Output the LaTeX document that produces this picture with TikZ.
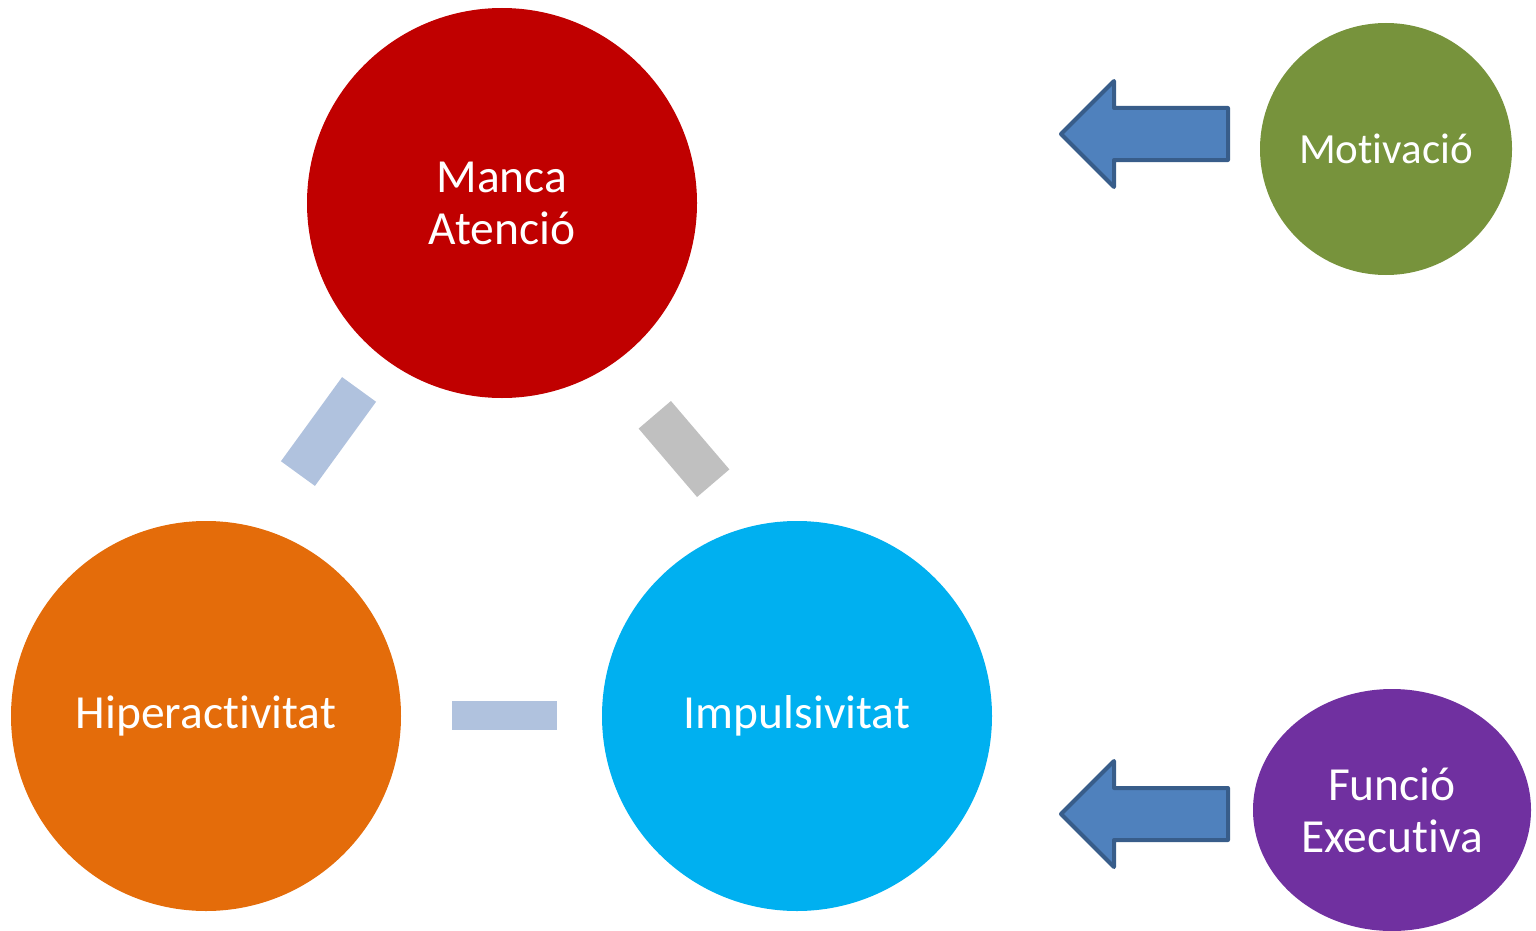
\documentclass[tikz,border=0pt]{standalone}
\usepackage{fontspec}
\setmainfont[Ligatures=NoCommon]{Carlito}
\definecolor{cred}{HTML}{C00000}
\definecolor{corange}{HTML}{E46C0A}
\definecolor{cblue}{HTML}{00B0F0}
\definecolor{cgreen}{HTML}{77933C}
\definecolor{cpurple}{HTML}{7030A0}
\definecolor{clink}{HTML}{B0C2DE}
\definecolor{cgray}{HTML}{C0C0C0}
\definecolor{arrfill}{HTML}{4F81BD}
\definecolor{arrline}{HTML}{385D8A}
\tikzset{
  bigcirc/.style={circle, minimum size=390pt, inner sep=0pt, text=white, align=center,
    font=\fontsize{47.5}{52}\selectfont},
  smallcirc/.style={ellipse, inner sep=0pt, text=white, align=center,
    font=\fontsize{47.5}{52}\selectfont},
  linkbar/.style={rectangle, inner sep=0pt, draw=none},
  blockarrow/.style={fill=arrfill, draw=arrline, line width=4pt, line join=round},
}
\usetikzlibrary{shapes.geometric}
\begin{document}
\begin{tikzpicture}[x=1pt,y=-1pt]
\useasboundingbox (0,0) rectangle (1536,931);
\node[bigcirc, fill=cred] (atencio) at (502,203) {Manca\\Atenció};
\node[bigcirc, fill=corange] (hiper) at (206,716) {Hiperactivitat};
\node[bigcirc, fill=cblue] (impuls) at (797,716) {Impulsivitat};
\node[smallcirc, fill=cgreen, minimum width=252pt, minimum height=252pt, font=\fontsize{43}{52}\selectfont] (motiv) at (1386,149) {Motivació};
\node[smallcirc, fill=cpurple, minimum width=278pt, minimum height=242pt] (funcio) at (1392,810) {Funció\\Executiva};
% connectors
\node[linkbar, fill=clink, minimum width=104pt, minimum height=42pt, rotate=54] (l1) at (328.5,431.5) {};
\node[linkbar, fill=cgray, minimum width=90pt, minimum height=42.5pt, rotate=-49.5] (l2) at (684,449) {};
\node[linkbar, fill=clink, minimum width=105pt, minimum height=29pt] (l3) at (504.5,715.5) {};
% block arrows
\draw[blockarrow] (1061,134) -- (1114,81) -- (1114,108) -- (1228,108) -- (1228,160) -- (1114,160) -- (1114,187) -- cycle;
\draw[blockarrow] (1061,814) -- (1114,761) -- (1114,788) -- (1228,788) -- (1228,840) -- (1114,840) -- (1114,867) -- cycle;
\end{tikzpicture}
\end{document}
